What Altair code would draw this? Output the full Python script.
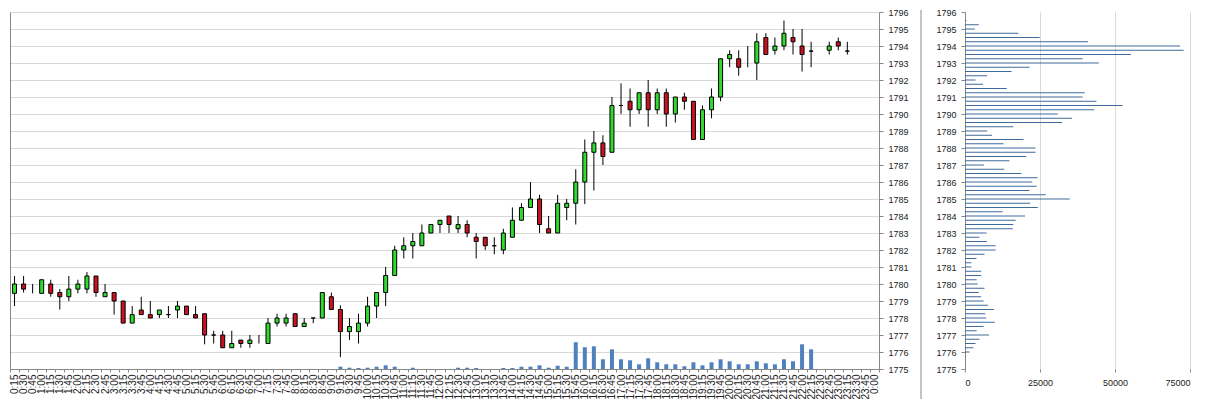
import altair as alt
import pandas as pd

FONT = "Liberation Sans"
GREEN = "#2EDB2E"
RED = "#CC1020"

times = ["0:15", "0:30", "0:45", "1:00", "1:15", "1:30", "1:45", "2:00", "2:15", "2:30",
         "2:45", "3:00", "3:15", "3:30", "3:45", "4:00", "4:15", "4:30", "4:45", "5:00",
         "5:15", "5:30", "5:45", "6:00", "6:15", "6:30", "6:45", "7:00", "7:15", "7:30",
         "7:45", "8:00", "8:15", "8:30", "8:45", "9:00", "9:15", "9:30", "9:45", "10:00",
         "10:15", "10:30", "10:45", "11:00", "11:15", "11:30", "11:45", "12:00", "12:15", "12:30",
         "12:45", "13:00", "13:15", "13:30", "13:45", "14:00", "14:15", "14:30", "14:45", "15:00",
         "15:15", "15:30", "15:45", "16:00", "16:15", "16:30", "16:45", "17:00", "17:15", "17:30",
         "17:45", "18:00", "18:15", "18:30", "18:45", "19:00", "19:15", "19:30", "19:45", "20:00",
         "20:15", "20:30", "20:45", "21:00", "21:15", "21:30", "21:45", "22:00", "22:15", "22:30",
         "22:45", "23:00", "23:15", "23:30", "23:45", "0:00"]

opens = [1779.45, 1780.0, None, 1779.45, 1780.0, 1779.5, 1779.25, 1779.7, 1779.7, 1780.47,
         1779.25, 1779.5, 1779.0, 1777.7, 1778.47, 1778.2, 1778.2, 1778.2, 1778.47, 1778.7,
         1778.2, 1778.25, 1777.0, 1777.0, 1776.25, 1776.7, 1776.5, None, 1776.5, 1777.7,
         1777.7, 1778.25, 1777.5, 1778.0, 1778.0, 1779.25, 1778.5, 1777.2, 1777.2, 1777.7,
         1778.7, 1779.5, 1780.5, 1782.0, 1782.25, 1782.25, 1783.0, 1783.5, 1784.0, 1783.25,
         1783.5, 1782.75, 1782.75, 1782.25, 1782.0, 1782.75, 1783.75, 1784.5, 1785.0, 1783.25,
         1783.0, 1784.5, 1784.75, 1786.0, 1787.75, 1788.3, 1787.75, 1790.5, 1790.75, 1790.25,
         1791.25, 1790.25, 1791.25, 1790.0, 1791.0, 1790.75, 1788.5, 1790.25, 1791.0, 1793.25,
         1793.25, None, 1793.0, 1794.5, 1793.75, 1794.0, 1794.5, 1794.0, 1793.7, None,
         1793.75, 1794.25, 1793.7, None, None, None]

highs = [1780.47, 1780.47, 1780.0, 1780.25, 1780.25, 1779.7, 1780.47, 1780.25, 1780.7, 1780.47,
         1780.0, 1779.5, 1779.0, 1778.7, 1779.25, 1779.0, 1778.47, 1778.7, 1779.0, 1778.7,
         1778.7, 1778.25, 1777.25, 1777.25, 1777.25, 1776.7, 1777.0, 1777.0, 1778.0, 1778.25,
         1778.25, 1778.25, 1778.0, 1778.0, 1779.5, 1779.5, 1778.75, 1778.0, 1778.25, 1779.25,
         1779.5, 1781.0, 1782.25, 1782.75, 1783.0, 1783.5, 1783.5, 1783.75, 1784.0, 1784.0,
         1783.75, 1783.0, 1782.75, 1782.75, 1783.25, 1784.5, 1784.75, 1786.0, 1785.25, 1784.0,
         1785.25, 1785.0, 1786.75, 1788.5, 1789.0, 1788.75, 1791.0, 1791.8, 1791.5, 1791.25,
         1792.0, 1791.5, 1791.5, 1791.0, 1791.25, 1790.75, 1790.5, 1791.5, 1793.25, 1793.75,
         1793.75, 1794.0, 1794.75, 1794.75, 1794.5, 1795.5, 1795.0, 1795.0, 1794.25, None,
         1794.25, 1794.5, 1794.25, None, None, None]

lows = [1778.7, 1779.5, 1779.45, 1779.45, 1779.25, 1778.5, 1779.0, 1779.45, 1779.45, 1779.25,
        1779.25, 1778.2, 1777.7, 1777.7, 1778.2, 1778.0, 1778.0, 1778.0, 1778.0, 1778.2,
        1778.0, 1776.45, 1776.5, 1776.25, 1776.25, 1776.25, 1776.25, 1776.5, 1776.5, 1777.5,
        1777.5, 1777.5, 1777.5, 1777.7, 1778.0, 1778.5, 1775.7, 1776.7, 1776.5, 1777.5,
        1778.0, 1778.7, 1780.5, 1781.5, 1781.5, 1782.25, 1783.0, 1783.0, 1783.0, 1783.0,
        1782.75, 1781.5, 1782.0, 1781.75, 1781.75, 1782.75, 1783.75, 1784.5, 1783.0, 1783.0,
        1783.0, 1783.75, 1783.5, 1784.7, 1785.5, 1787.0, 1787.75, 1790.0, 1789.25, 1790.0,
        1789.25, 1790.0, 1789.25, 1789.5, 1790.25, 1788.5, 1788.5, 1789.75, 1790.75, 1792.75,
        1792.25, 1792.75, 1792.0, 1793.5, 1793.5, 1793.75, 1793.5, 1792.5, 1792.75, None,
        1793.5, 1793.75, 1793.5, None, None, None]

closes = [1780.0, 1779.7, None, 1780.25, 1779.45, 1779.25, 1779.7, 1780.0, 1780.47, 1779.5,
          1779.5, 1779.0, 1777.7, 1778.2, 1778.2, 1778.0, 1778.47, 1778.2, 1778.7, 1778.2,
          1778.0, 1777.0, 1777.0, 1776.25, 1776.5, 1776.5, 1776.7, None, 1777.7, 1778.0,
          1778.0, 1777.5, 1777.7, 1778.0, 1779.5, 1778.5, 1777.2, 1777.5, 1777.7, 1778.7,
          1779.5, 1780.5, 1782.0, 1782.25, 1782.5, 1783.0, 1783.5, 1783.75, 1783.5, 1783.5,
          1783.0, 1782.5, 1782.25, 1782.25, 1783.0, 1783.75, 1784.5, 1785.0, 1783.5, 1783.0,
          1784.75, 1784.75, 1786.0, 1787.75, 1788.3, 1787.5, 1790.5, 1790.5, 1790.25, 1791.25,
          1790.25, 1791.25, 1790.0, 1791.0, 1790.75, 1788.5, 1790.25, 1791.0, 1793.25, 1793.5,
          1792.75, None, 1794.25, 1793.5, 1794.0, 1794.75, 1794.25, 1793.5, 1793.7, None,
          1794.0, 1794.0, 1793.7, None, None, None]

volumes = [None, None, None, None, None, None, None, None, None, None,
           None, None, None, None, None, None, None, None, None, None,
           None, None, None, None, None, None, None, None, None, None,
           None, None, None, None, None, None, 3200, 1800, 1400, 1800,
           3200, 5200, 3200, None, 1800, None, None, None, None, 1800,
           1800, 1400, None, None, 1400, 1400, 3200, 3200, 5200, 1800,
           4600, 3200, 37500, 30500, 31800, 13600, 27600, 13600, 12200, 6600,
           15000, 9400, 6600, 6600, 3800, 9400, 5200, 9400, 13600, 10800,
           6600, 6600, 10800, 8000, 6600, 13600, 10800, 34600, 27600, None,
           None, None, None, None, None, None]

profile_prices = [1795.5, 1795.25, 1795.0, 1794.75, 1794.5, 1794.25, 1794.0, 1793.75,
                  1793.5, 1793.25, 1793.0, 1792.75, 1792.5, 1792.25, 1792.0, 1791.75,
                  1791.5, 1791.25, 1791.0, 1790.75, 1790.5, 1790.25, 1790.0, 1789.75,
                  1789.5, 1789.25, 1789.0, 1788.75, 1788.5, 1788.25, 1788.0, 1787.75,
                  1787.5, 1787.25, 1787.0, 1786.75, 1786.5, 1786.25, 1786.0, 1785.75,
                  1785.5, 1785.25, 1785.0, 1784.75, 1784.5, 1784.25, 1784.0, 1783.75,
                  1783.5, 1783.25, 1783.0, 1782.75, 1782.5, 1782.25, 1782.0, 1781.75,
                  1781.5, 1781.25, 1781.0, 1780.75, 1780.5, 1780.25, 1780.0, 1779.75,
                  1779.5, 1779.25, 1779.0, 1778.75, 1778.5, 1778.25, 1778.0, 1777.75,
                  1777.5, 1777.25, 1777.0, 1776.75, 1776.5, 1776.25, 1776.0, 1775.75]

profile_volumes = [450, 4600, 3300, 17800, 24900, 41000, 71700, 72900,
                   55300, 39200, 44600, 21500, 15500, 7400, 3500, 6000,
                   13900, 39900, 39200, 43800, 52500, 43100, 30900, 35700,
                   32400, 16100, 7400, 9000, 19500, 12800, 23500, 23500,
                   20400, 14800, 6300, 13100, 18800, 24200, 22400, 23900,
                   21500, 26900, 34900, 21700, 24300, 12500, 20000, 16900,
                   16100, 15900, 7200, 4800, 7300, 10200, 10200, 6500,
                   3800, 2100, 2100, 5400, 5400, 3900, 4200, 6500,
                   4600, 5400, 6200, 7700, 9700, 6800, 7100, 9900,
                   6200, 3900, 8000, 4800, 3500, 2800, 1500, 300]

price_ticks = [1775, 1776, 1777, 1778, 1779, 1780, 1781, 1782, 1783, 1784, 1785,
               1786, 1787, 1788, 1789, 1790, 1791, 1792, 1793, 1794, 1795, 1796]
volume_ticks = [0, 25000, 50000, 75000]

df = pd.DataFrame({"time": times, "open": opens, "high": highs, "low": lows,
                   "close": closes, "volume": volumes})
prof_df = pd.DataFrame({"price": profile_prices, "vol": profile_volumes})
sep_df = pd.DataFrame({"k": [0]})

W1, W2, H = 869, 225, 357

x_axis = alt.Axis(title=None, labelAngle=270, labelAlign="right", labelBaseline="middle",
                  labelFontSize=10, labelPadding=2, tickBand="extent", tickSize=3,
                  labelOverlap=False)
x_main = alt.X("time:N", sort=times, axis=x_axis,
               scale=alt.Scale(paddingInner=0, paddingOuter=0))
x_plain = alt.X("time:N", sort=times, scale=alt.Scale(paddingInner=0, paddingOuter=0))
price_scale = alt.Scale(domain=[1775, 1796], nice=False, zero=False)

vol = alt.Chart(df).mark_bar(size=4, color="#4F81BD").encode(
    x=x_main,
    y=alt.Y("volume:Q", scale=alt.Scale(domain=[0, 500000], nice=False),
            axis=alt.Axis(orient="left", labels=False, ticks=False, grid=False,
                          title=None, domain=True)),
)

wick = alt.Chart(df).mark_rule(color="black", strokeWidth=1).encode(
    x=x_plain,
    y=alt.Y("low:Q", scale=price_scale,
            axis=alt.Axis(orient="right", values=price_ticks, format="d", title=None,
                          grid=True, gridColor="#D9D9D9", tickSize=4, labelPadding=5)),
    y2="high:Q",
)

body = alt.Chart(df).mark_bar(size=4, stroke="black", strokeWidth=1).encode(
    x=x_plain,
    y=alt.Y("open:Q", scale=price_scale, axis=None),
    y2="close:Q",
    fill=alt.condition("datum.close >= datum.open", alt.value(GREEN), alt.value(RED)),
)

left = alt.layer(vol, wick, body).resolve_scale(y="independent").properties(width=W1, height=H)

prof = alt.Chart(prof_df).transform_calculate(zero="0").mark_rule(
    color="#3F6A9C", strokeWidth=1).encode(
    y=alt.Y("price:Q", scale=price_scale,
            axis=alt.Axis(values=price_ticks, format="d", title=None, grid=False,
                          tickSize=4, labelPadding=5)),
    x=alt.X("vol:Q", scale=alt.Scale(domain=[0, 75000], nice=False),
            axis=alt.Axis(values=volume_ticks, format="d", title=None, grid=True,
                          gridColor="#D9D9D9", domain=False, tickSize=3, labelPadding=6)),
    x2="zero:Q",
)

sep = alt.Chart(sep_df).mark_rule(color="#888888", strokeWidth=1).encode(
    x=alt.value(-44), y=alt.value(-2), y2=alt.value(387))

right = alt.layer(prof, sep).properties(width=W2, height=H)

chart = alt.hconcat(left, right, spacing=86, bounds="flush").properties(
    padding={"left": -3, "top": 0, "right": 0, "bottom": 0},
    background="white",
).configure_view(stroke=None).configure_axis(
    labelFont=FONT, labelColor="#222222", labelFontSize=9,
    domainColor="#888888", tickColor="#888888",
)

chart.save("out.html", embed_options={"renderer": "svg", "actions": False})
